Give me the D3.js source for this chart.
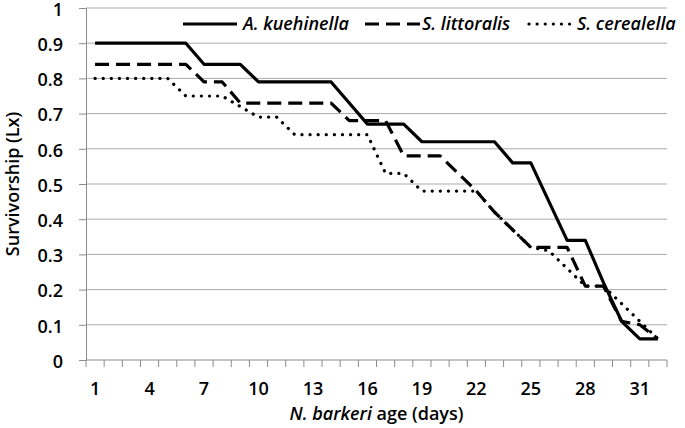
<!DOCTYPE html>
<html>
<head>
<meta charset="utf-8">
<script src="https://cdn.jsdelivr.net/npm/d3@7"></script>
<style>
  body { margin: 0; background: #fff; }
  svg { display: block; }
  text { font-family: "Open Sans", sans-serif; fill: #000; }
</style>
</head>
<body>
<script>
// N. barkeri age in days (one category per day)
var days = d3.range(1, 33);

// Survivorship (Lx), one value per day
var kuehinella = [0.9, 0.9, 0.9, 0.9, 0.9, 0.9, 0.84, 0.84, 0.84, 0.79,
                  0.79, 0.79, 0.79, 0.79, 0.73, 0.67, 0.67, 0.67, 0.62, 0.62,
                  0.62, 0.62, 0.62, 0.56, 0.56, 0.45, 0.34, 0.34, 0.22, 0.11,
                  0.06, 0.06];
var littoralis = [0.84, 0.84, 0.84, 0.84, 0.84, 0.84, 0.79, 0.79, 0.73, 0.73,
                  0.73, 0.73, 0.73, 0.73, 0.68, 0.68, 0.68, 0.58, 0.58, 0.58,
                  0.53, 0.48, 0.42, 0.37, 0.32, 0.32, 0.32, 0.21, 0.21, 0.11,
                  0.10, 0.06];
var cerealella = [0.8, 0.8, 0.8, 0.8, 0.8, 0.75, 0.75, 0.75, 0.72, 0.69,
                  0.69, 0.64, 0.64, 0.64, 0.64, 0.64, 0.53, 0.53, 0.48, 0.48,
                  0.48, 0.48, 0.42, 0.37, 0.32, 0.31, 0.26, 0.21, 0.21, 0.16,
                  0.11, 0.06];

var seriesNames = ["A. kuehinella", "S. littoralis", "S. cerealella"];
var xTickLabels = [1, 4, 7, 10, 13, 16, 19, 22, 25, 28, 31];
var yTickValues = d3.range(0, 11).map(function(i) { return i / 10; });

var width = 685, height = 428;
var plot = {left: 86, right: 667, top: 8, bottom: 360};
var fontSize = "18px";

var svg = d3.select("body").append("svg")
    .attr("width", width)
    .attr("height", height);

// scales
var x = d3.scaleBand().domain(days).range([plot.left, plot.right]).padding(0);
var y = d3.scaleLinear().domain([0, 1]).range([plot.bottom, plot.top]);
var bw = x.bandwidth();

// horizontal gridlines
svg.append("g")
  .selectAll("line")
  .data(yTickValues.filter(function(d) { return d > 0; }))
  .enter().append("line")
    .attr("x1", plot.left).attr("x2", plot.right)
    .attr("y1", function(d) { return y(d); })
    .attr("y2", function(d) { return y(d); })
    .attr("stroke", "#ababab")
    .attr("stroke-width", 1);

// y axis
var yAxis = svg.append("g")
    .attr("transform", "translate(" + plot.left + ",0)")
    .call(d3.axisLeft(y)
      .tickValues(yTickValues)
      .tickFormat(d3.format("~g"))
      .tickSize(7)
      .tickPadding(16));
yAxis.select(".domain").attr("stroke", "#8c8c8c");
yAxis.selectAll(".tick line").attr("stroke", "#8c8c8c");
yAxis.selectAll(".tick text")
    .attr("dy", "0.4em")
    .style("font-family", "'Open Sans', sans-serif")
    .style("font-size", fontSize)
    .style("font-weight", 600)
    .attr("fill", "#000");

// x axis: ticks sit between days, labels every third day
var xg = svg.append("g");
xg.append("line")
    .attr("x1", plot.left).attr("x2", plot.right)
    .attr("y1", plot.bottom).attr("y2", plot.bottom)
    .attr("stroke", "#8c8c8c");
xg.selectAll("line.tk")
  .data(days.concat([days.length + 1]))
  .enter().append("line")
    .attr("class", "tk")
    .attr("x1", function(d) { return d <= days.length ? x(d) : plot.right; })
    .attr("x2", function(d) { return d <= days.length ? x(d) : plot.right; })
    .attr("y1", plot.bottom).attr("y2", plot.bottom + 7)
    .attr("stroke", "#8c8c8c");
xg.selectAll("text")
  .data(xTickLabels)
  .enter().append("text")
    .attr("x", function(d) { return x(d) + bw / 2; })
    .attr("y", 395)
    .attr("text-anchor", "middle")
    .style("font-size", fontSize)
    .style("font-weight", 600)
    .text(function(d) { return d; });

// axis titles
svg.append("text")
    .attr("transform", "translate(19," + (plot.top + plot.bottom) / 2 + ") rotate(-90)")
    .attr("text-anchor", "middle")
    .style("font-size", fontSize)
    .style("font-weight", 600)
    .text("Survivorship (Lx)");

var xt = svg.append("text")
    .attr("x", (plot.left + plot.right) / 2)
    .attr("y", 420)
    .attr("text-anchor", "middle")
    .style("font-size", fontSize)
    .style("font-weight", 600);
xt.append("tspan").style("font-style", "italic").text("N. barkeri");
xt.append("tspan").text(" age (days)");

// lines
var styles = [
  {data: kuehinella, dash: null, cap: "butt"},
  {data: littoralis, dash: "14,7", cap: "butt"},
  {data: cerealella, dash: "0.1,8", cap: "round"}
];

var line = d3.line()
    .x(function(d, i) { return x(days[i]) + bw / 2; })
    .y(function(d) { return y(d); });

styles.forEach(function(s) {
  svg.append("path")
      .datum(s.data)
      .attr("d", line)
      .attr("fill", "none")
      .attr("stroke", "#000")
      .attr("stroke-width", 3.2)
      .attr("stroke-linejoin", "round")
      .attr("stroke-linecap", s.cap)
      .attr("stroke-dasharray", s.dash);
});

// legend
var legendPos = [
  {x1: 183, x2: 237, tx: 243},
  {x1: 365, x2: 420, tx: 422},
  {x1: 529, x2: 572, tx: 577}
];
var legend = svg.append("g");
seriesNames.forEach(function(name, i) {
  var p = legendPos[i];
  legend.append("line")
      .attr("x1", p.x1).attr("x2", p.x2)
      .attr("y1", 24).attr("y2", 24)
      .attr("stroke", "#000")
      .attr("stroke-width", 3.2)
      .attr("stroke-linecap", styles[i].cap)
      .attr("stroke-dasharray", styles[i].dash);
  legend.append("text")
      .attr("x", p.tx)
      .attr("y", 30)
      .style("font-size", fontSize)
      .style("font-weight", 600)
      .style("font-style", "italic")
      .text(name);
});
</script>
</body>
</html>
